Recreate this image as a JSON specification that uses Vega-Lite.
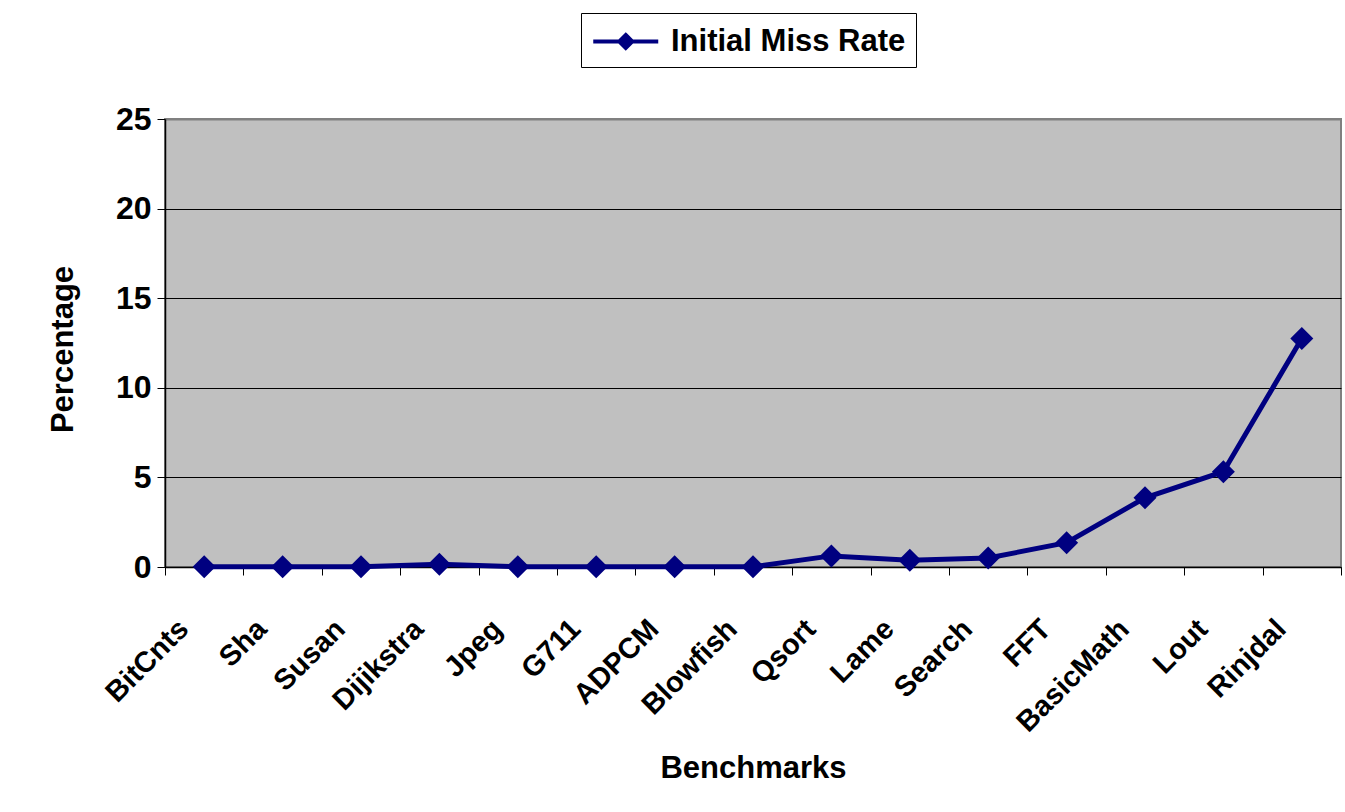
{
  "$schema": "https://vega.github.io/schema/vega-lite/v6.json",
  "width": 1176,
  "height": 448,
  "autosize": {"type": "none"},
  "padding": {"left": 165, "top": 119, "right": 4, "bottom": 245},
  "background": "white",
  "config": {
    "font": "Liberation Sans",
    "view": {"fill": "#C0C0C0", "stroke": "#808080", "strokeWidth": 2},
    "axis": {"labelFont": "Liberation Sans", "titleFont": "Liberation Sans"}
  },
  "data": {
    "values": [
      {"benchmark": "BitCnts", "rate": 0.02, "series": "Initial Miss Rate"},
      {"benchmark": "Sha", "rate": 0.01, "series": "Initial Miss Rate"},
      {"benchmark": "Susan", "rate": 0.01, "series": "Initial Miss Rate"},
      {"benchmark": "Dijikstra", "rate": 0.15, "series": "Initial Miss Rate"},
      {"benchmark": "Jpeg", "rate": 0.02, "series": "Initial Miss Rate"},
      {"benchmark": "G711", "rate": 0.01, "series": "Initial Miss Rate"},
      {"benchmark": "ADPCM", "rate": 0.01, "series": "Initial Miss Rate"},
      {"benchmark": "Blowfish", "rate": 0.01, "series": "Initial Miss Rate"},
      {"benchmark": "Qsort", "rate": 0.62, "series": "Initial Miss Rate"},
      {"benchmark": "Lame", "rate": 0.38, "series": "Initial Miss Rate"},
      {"benchmark": "Search", "rate": 0.5, "series": "Initial Miss Rate"},
      {"benchmark": "FFT", "rate": 1.36, "series": "Initial Miss Rate"},
      {"benchmark": "BasicMath", "rate": 3.86, "series": "Initial Miss Rate"},
      {"benchmark": "Lout", "rate": 5.32, "series": "Initial Miss Rate"},
      {"benchmark": "Rinjdal", "rate": 12.75, "series": "Initial Miss Rate"}
    ]
  },
  "encoding": {
    "x": {
      "field": "benchmark",
      "type": "nominal",
      "sort": null,
      "scale": {"type": "band", "paddingInner": 0, "paddingOuter": 0},
      "axis": {
        "title": "Benchmarks",
        "titleFontSize": 31,
        "titleFontWeight": "bold",
        "titleColor": "black",
        "titleBaseline": "alphabetic",
        "titleAlign": "center",
        "titleY": 210,
        "labelAngle": -45,
        "labelAlign": "right",
        "labelBaseline": "middle",
        "labelFontSize": 29,
        "labelFontWeight": "bold",
        "labelColor": "black",
        "labelPadding": 49,
        "labelOffset": -21,
        "tickBand": "extent",
        "tickColor": "black",
        "tickSize": 8,
        "domainColor": "black",
        "domainWidth": 1.5,
        "grid": false
      }
    },
    "y": {
      "field": "rate",
      "type": "quantitative",
      "scale": {"domain": [0, 25], "nice": false},
      "axis": {
        "title": "Percentage",
        "titleFontSize": 31,
        "titleFontWeight": "bold",
        "titleColor": "black",
        "titleAngle": -90,
        "titleBaseline": "alphabetic",
        "titleAlign": "center",
        "titleX": -93,
        "titleY": 230,
        "values": [0, 5, 10, 15, 20, 25],
        "labelFontSize": 32,
        "labelFontWeight": "bold",
        "labelColor": "black",
        "labelPadding": 6,
        "tickColor": "black",
        "tickSize": 8,
        "domainColor": "black",
        "domainWidth": 1.5,
        "grid": true,
        "gridColor": {"condition": {"test": "datum.value === 25", "value": "#808080"}, "value": "black"},
        "gridWidth": {"condition": {"test": "datum.value === 25", "value": 2}, "value": 1},
        "gridOpacity": 1
      }
    },
    "color": {
      "field": "series",
      "type": "nominal",
      "scale": {"range": ["#000080"]},
      "legend": {
        "title": null,
        "orient": "none",
        "legendX": 416,
        "legendY": -106,
        "padding": 10,
        "strokeColor": "black",
        "fillColor": "white",
        "labelFontSize": 31,
        "labelFontWeight": "bold",
        "labelColor": "black",
        "labelFont": "Liberation Sans",
        "labelLimit": 500,
        "labelOffset": 43,
        "symbolType": "M-1,0H3M1,-0.4L1.4,0L1,0.4L0.6,0Z",
        "symbolSize": 1056,
        "symbolStrokeWidth": 4,
        "symbolFillColor": "#000080",
        "symbolStrokeColor": "#000080",
        "symbolOpacity": 1,
        "encode": {
          "symbols": {"update": {"fill": {"value": "#000080"}, "stroke": {"value": "#000080"}, "strokeWidth": {"value": 4}, "opacity": {"value": 1}}}
        }
      }
    }
  },
  "layer": [
    {"mark": {"type": "line", "strokeWidth": 5}},
    {"mark": {"type": "point", "shape": "diamond", "filled": true, "size": 529, "opacity": 1}}
  ]
}
